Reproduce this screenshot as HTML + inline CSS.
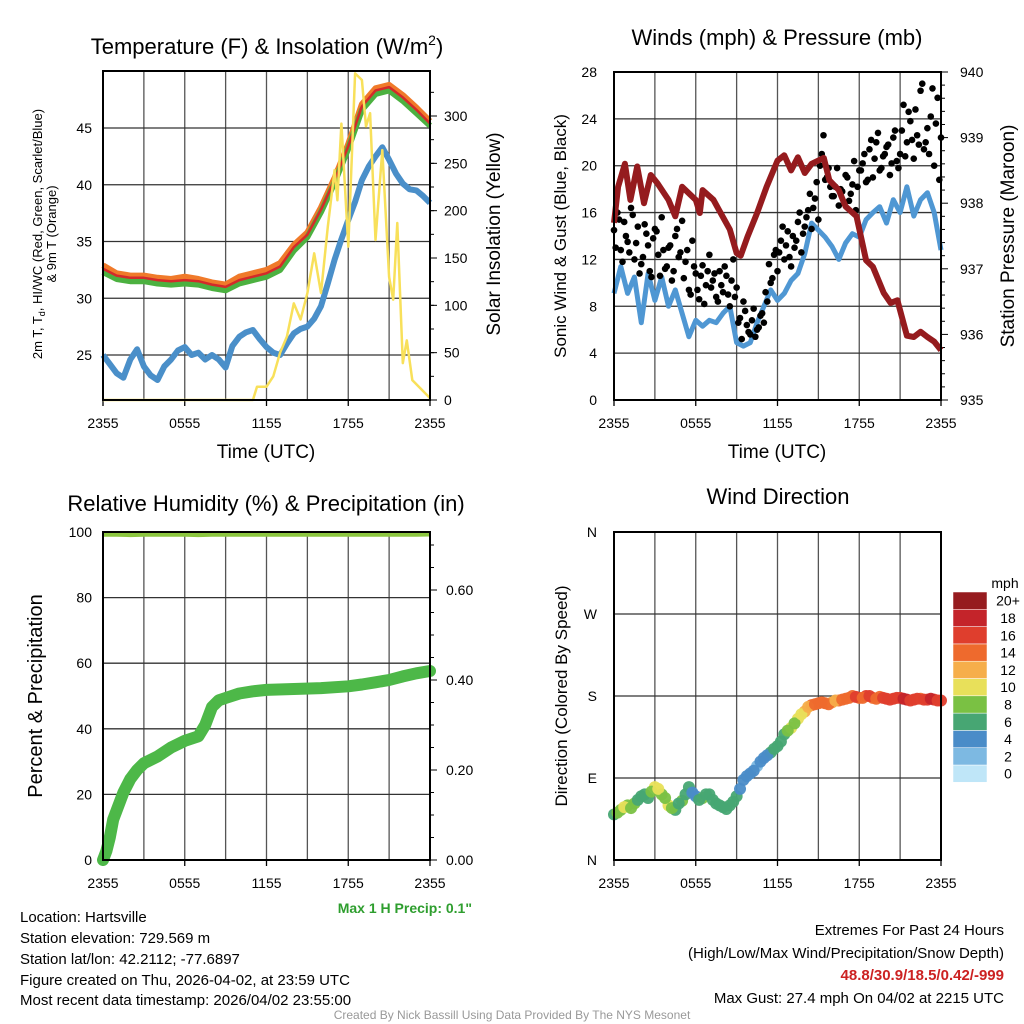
<!DOCTYPE html>
<html><head><meta charset="utf-8"><style>
html,body{margin:0;padding:0;background:#fff}
svg{display:block;font-family:"Liberation Sans",Arial,sans-serif}
</style></head><body>
<svg id="c" width="1024" height="1024" viewBox="0 0 1024 1024" xmlns="http://www.w3.org/2000/svg">
<rect x="0" y="0" width="1024" height="1024" fill="#fff"/>
<text x="267" y="54" font-size="22" text-anchor="middle">Temperature (F) &amp; Insolation (W/m<tspan font-size="14" dy="-9">2</tspan><tspan dy="9">)</tspan></text>
<text transform="translate(42,234) rotate(-90)" font-size="13" text-anchor="middle">2m T, T<tspan font-size="9" dy="3">d</tspan><tspan dy="-3">, HI/WC (Red, Green, Scarlet/Blue)</tspan></text>
<text transform="translate(56,234) rotate(-90)" font-size="13" text-anchor="middle">&amp; 9m T (Orange)</text>
<text transform="translate(500,234) rotate(-90)" font-size="19" text-anchor="middle">Solar Insolation (Yellow)</text>
<text x="266" y="458" font-size="19" text-anchor="middle">Time (UTC)</text>
<text x="777" y="45" font-size="22" text-anchor="middle">Winds (mph) &amp; Pressure (mb)</text>
<text transform="translate(566,236) rotate(-90)" font-size="17" text-anchor="middle">Sonic Wind &amp; Gust (Blue, Black)</text>
<text transform="translate(1014,236) rotate(-90)" font-size="19" text-anchor="middle">Station Pressure (Maroon)</text>
<text x="777" y="458" font-size="19" text-anchor="middle">Time (UTC)</text>
<text x="266" y="511" font-size="22" text-anchor="middle">Relative Humidity (%) &amp; Precipitation (in)</text>
<text transform="translate(42,696) rotate(-90)" font-size="20" text-anchor="middle">Percent &amp; Precipitation</text>
<text x="472" y="913" font-size="14" font-weight="bold" fill="#2e9e2e" text-anchor="end">Max 1 H Precip: 0.1"</text>
<text x="778" y="504" font-size="22" text-anchor="middle">Wind Direction</text>
<text transform="translate(567,696) rotate(-90)" font-size="17" text-anchor="middle">Direction (Colored By Speed)</text>
<text x="1005" y="588" font-size="14" text-anchor="middle">mph</text>
<g font-size="15">
<text x="20" y="922">Location: Hartsville</text>
<text x="20" y="943">Station elevation: 729.569 m</text>
<text x="20" y="964">Station lat/lon: 42.2112; -77.6897</text>
<text x="20" y="985">Figure created on Thu, 2026-04-02, at 23:59 UTC</text>
<text x="20" y="1005">Most recent data timestamp: 2026/04/02 23:55:00</text>
</g>
<g font-size="15" text-anchor="end">
<text x="1004" y="935">Extremes For Past 24 Hours</text>
<text x="1004" y="958">(High/Low/Max Wind/Precipitation/Snow Depth)</text>
<text x="1004" y="980" font-weight="bold" fill="#cc2222">48.8/30.9/18.5/0.42/-999</text>
<text x="1004" y="1003">Max Gust: 27.4 mph On 04/02 at 2215 UTC</text>
</g>
<text x="512" y="1019" font-size="12" fill="#999" text-anchor="middle">Created By Nick Bassill Using Data Provided By The NYS Mesonet</text>
</svg>
<script>
// ---- data ----
const xTickLabels = ["2355","0555","1155","1755","2355"];
const hours = [0,1,2,3,4,5,6,7,8,9,10,11,12,13,14,15,16,17,18,19,20,21,22,23,24];
const tempRed = [32.6,32.0,31.8,31.8,31.6,31.5,31.6,31.5,31.2,31.0,31.6,31.9,32.2,32.8,34.5,35.6,37.8,40.4,43.4,46.9,48.3,48.6,47.7,46.6,45.4];
const tempGreen = [32.3,31.7,31.5,31.5,31.3,31.2,31.3,31.2,30.9,30.7,31.3,31.6,31.9,32.5,34.2,35.4,37.6,40.2,43.2,46.6,48.0,48.3,47.4,46.3,45.2];
const tempOrange = [32.9,32.2,32.0,32.0,31.8,31.7,31.9,31.7,31.4,31.2,31.9,32.2,32.5,33.1,34.7,35.8,38.0,40.6,43.6,47.1,48.5,48.8,47.9,46.8,45.6];
const dewHours = [0,0.5,1,1.5,2,2.5,3,3.5,4,4.5,5,5.5,6,6.5,7,7.5,8,8.5,9,9.5,10,10.5,11,11.5,12,12.5,13,13.5,14,14.5,15,15.5,16,16.5,17,17.5,18,18.5,19,19.5,20,20.5,21,21.5,22,22.5,23,23.5,24];
const dewBlue = [25.0,24.2,23.4,23.0,24.6,25.5,24.0,23.2,22.8,24.0,24.6,25.4,25.7,25.0,25.2,24.6,25.0,24.6,23.9,25.8,26.6,27.0,27.2,26.4,25.7,25.2,25.0,26.0,26.9,27.3,27.5,28.2,29.3,31.3,33.4,35.2,36.9,38.5,40.4,41.6,42.5,43.3,42.2,41.0,40.1,39.6,39.5,39.0,38.4];
const solarHours = [0,11,11.3,12,12.5,13,13.5,14,14.5,15,15.5,16,16.5,17,17.2,17.5,18,18.5,19,19.3,19.6,20,20.5,21,21.3,21.6,22,22.3,22.7,24];
const solarValues = [0,0,14,14,25,50,67,102,85,113,155,113,183,243,211,292,162,345,338,289,303,169,264,130,106,187,39,63,21,2];
const presHours = [0,0.3,0.8,1.2,1.7,2.2,2.7,3.2,4,4.5,5,6,6.3,6.5,7.3,7.7,8.5,9,9.3,9.8,10.5,11.2,12,12.5,13,13.5,14,14.5,15.4,15.8,16.5,17,17.8,18.5,19,19.8,20.3,20.8,21.5,22,22.5,23,23.5,24];
const presValues = [937.70,938.25,938.6,938.05,938.56,938.0,938.43,938.3,938.05,937.8,938.25,938.05,937.85,938.2,938.05,937.9,937.6,937.24,937.2,937.49,937.85,938.25,938.65,938.73,938.5,938.7,938.46,938.6,938.69,938.35,938.2,937.95,937.8,937.13,937.03,936.63,936.48,936.52,935.98,935.96,936.04,935.96,935.89,935.76];
const windBlue = [9.1,11.4,9.1,10.5,6.6,10.8,8.5,10.5,8.0,9.4,7.4,5.4,6.8,6.3,6.8,6.6,7.4,8.0,4.9,4.6,4.9,6.6,8.0,9.4,8.5,9.1,10.2,10.8,12.5,15.1,14.5,13.9,13.1,12.0,13.4,14.2,13.9,15.4,16.0,16.5,15.1,17.1,16.0,18.2,15.7,17.1,17.7,16.0,12.8];
const gustValues = [14.5,16.0,12.8,15.2,13.5,16.4,12.0,14.8,11.6,15.0,13.2,10.5,14.6,12.4,15.6,11.2,13.0,10.2,14.0,12.2,15.3,11.8,9.4,13.6,10.8,8.6,11.5,9.8,12.4,10.2,8.8,11.0,9.2,10.6,8.0,12.0,9.6,7.0,8.4,6.4,5.6,7.8,6.0,7.2,6.6,8.4,10.0,12.4,11.0,13.6,12.0,14.4,11.4,13.0,15.2,12.6,14.8,16.2,14.6,17.2,15.4,21.0,18.8,19.8,17.4,18.2,16.6,17.8,19.2,17.0,18.4,16.2,19.6,20.2,18.6,21.4,19.0,22.0,19.6,20.8,21.6,19.2,22.4,20.4,21.0,25.2,22.0,23.8,20.6,22.6,26.4,21.4,23.2,24.2,20.0,25.8,22.4];
const gustValues2 = [13.0,15.4,11.8,14.0,12.6,15.8,13.4,10.8,12.2,14.2,11.0,13.8,14.4,10.6,12.8,11.4,13.2,11.0,14.6,12.6,10.4,12.8,9.0,11.4,9.4,10.6,8.2,11.0,9.6,10.8,8.4,9.8,11.4,9.0,10.2,8.8,6.6,5.2,7.6,5.8,6.8,5.4,6.2,7.4,9.2,11.6,10.4,12.8,12.6,14.8,13.2,12.2,14.0,13.6,16.0,14.2,15.6,17.6,16.4,18.6,20.0,22.6,19.0,18.2,17.4,19.8,18.0,16.8,19.0,17.6,20.4,18.2,19.6,21.0,18.8,22.2,20.6,22.8,19.8,21.0,21.8,20.2,23.0,19.8,23.0,20.8,24.6,22.2,24.8,21.8,27.0,22.0,21.0,26.6,23.6,18.8];
const rhValues = [99.3,99.3,99.2,99.3,99.3,99.3,99.3,99.2,99.3,99.3,99.3,99.3,99.3,99.3,99.3,99.3,99.3,99.3,99.3,99.3,99.3,99.3,99.3,99.3,99.4];
const precipHours = [0,0.25,0.5,0.75,1,1.25,1.5,2,2.5,3,4,5,6,7,7.5,8,8.5,9,10,11,12,14,16,18,19,20,21,22,23,24];
const precipValues = [0,0.02,0.05,0.09,0.11,0.13,0.15,0.18,0.20,0.215,0.23,0.25,0.265,0.275,0.30,0.34,0.355,0.36,0.37,0.375,0.378,0.38,0.382,0.386,0.39,0.395,0.40,0.408,0.415,0.42];
const dirValues = [50,55,60,62,70,68,80,72,60,55,65,80,70,68,72,62,58,60,70,88,95,103,112,118,125,138,145,155,163,170,172,172,173,175,177,180,178,180,178,179,177,177,178,176,176,177,176,176,175];
const dirSpeeds = [6,9,8,9,7,6,10,9,10,7,8,6,4,8,6,6,6,7,7,4,4,3,5,6,7,7,10,10,12,15,14,14,13,14,15,14,15,16,14,15,16,17,16,18,17,15,17,16,17];
const dirValues2 = [52,58,57,66,72,75,78,68,57,62,72,74,66,72,66,60,56,64,78,92,98,108,115,122,130,142,150,160,168,171,173,171,175,176,178,179,178,180,177,178,176,178,177,175,177,176,177,175];
const dirSpeeds2 = [8,10,8,7,6,8,10,9,8,6,6,4,7,6,6,6,7,6,5,4,4,4,5,6,7,8,9,11,13,14,15,14,13,15,14,16,15,16,15,16,16,17,18,17,16,17,18,16];
const tempTicks = [25,30,35,40,45];
const solarTicks = [0,50,100,150,200,250,300];
const windTicks = [0,4,8,12,16,20,24,28];
const presTicks = [935,936,937,938,939,940];
const rhTicks = [0,20,40,60,80,100];
const precipTicks = [0,0.2,0.4,0.6];
const dirTicks = [0,90,180,270,360];
const dirTickLabels = ["N","E","S","W","N"];
const cbLabels = ["0","2","4","6","8","10","12","14","16","18","20+"];
const cbColors = ["#bfe6f8","#7db9e2","#4a8cc8","#47a673","#7ac143","#e8e05a","#f6ae4a","#ee6a2d","#df3e2d","#c4242a","#961b1f"];

const NS = "http://www.w3.org/2000/svg";
const svg = document.getElementById("c");
function el(tag, attrs, parent){const e=document.createElementNS(NS,tag);for(const k in attrs)e.setAttribute(k,attrs[k]);(parent||svg).appendChild(e);return e;}
function lin(d0,d1,r0,r1){return v=>r0+(v-d0)/(d1-d0)*(r1-r0);}
function pathD(xs,ys,fx,fy){return xs.map((x,i)=>(i?"L":"M")+fx(x).toFixed(1)+","+fy(ys[i]).toFixed(1)).join("");}

function frame(p, name){
  const g = el("g",{});
  
  
  for(let h=3; h<24; h+=3){
    const l=el("line",{x1:p.fx(h),x2:p.fx(h),y1:p.y0,y2:p.y1,stroke:"#555","stroke-width":1.3},g);
    
    
  }
  for(let i=0;i<5;i++){
    const x=p.fx(i*6);
    const t=el("line",{x1:x,x2:x,y1:p.y1,y2:p.y1+6,stroke:"#000","stroke-width":1.3},g);
    
    
    const tx=el("text",{x:x,y:p.y1+28,"font-size":14,"text-anchor":"middle"},g);
    tx.textContent=xTickLabels[i];
    
    
  }
  return g;
}
function hgrid(p, ticks, fy, g){
  ticks.forEach(v=>{const l=el("line",{x1:p.x0,x2:p.x1,y1:fy(v),y2:fy(v),stroke:"#333","stroke-width":1.3},g);
    
    });
}
function yLabels(ticks, labels, fy, x, anchor, g, name){
  ticks.forEach((v,i)=>{const t=el("text",{x:x,y:fy(v)+5,"font-size":14,"text-anchor":anchor},g);t.textContent=labels[i];
    
    });
}
function border(p,g){const r=el("rect",{x:p.x0,y:p.y0,width:p.x1-p.x0,height:p.y1-p.y0,fill:"none",stroke:"#000","stroke-width":2},g);
  
  }
function ticksOut(vals,fy,x,len,g){vals.forEach(v=>{const l=el("line",{x1:x,x2:x+len,y1:fy(v),y2:fy(v),stroke:"#000","stroke-width":1},g);
  
  });}

// ---- Panel 1: temperature ----
const p1={x0:103,x1:430,y0:71,y1:400}; p1.fx=lin(0,24,p1.x0,p1.x1);
const fyT=lin(25,45,355,128), fyS=lin(0,300,400,116);
const g1=frame(p1,'temperature-panel');
hgrid(p1,tempTicks,fyT,g1);
yLabels(tempTicks,tempTicks.map(String),fyT,92,"end",g1,'temp-tick-label');
yLabels(solarTicks,solarTicks.map(String),fyS,444,"start",g1,'solar-tick-label');
ticksOut([0,25,50,75,100,125,150,175,200,225,250,275,300,325],fyS,430,4,g1);
ticksOut(solarTicks,fyS,430,7,g1);
{const s=el("path",{d:pathD(hours,tempOrange,p1.fx,fyT),fill:"none",stroke:"#f07a2a","stroke-width":6,"stroke-linejoin":"round"},g1);

}
{const s=el("path",{d:pathD(hours,tempGreen,p1.fx,fyT),fill:"none",stroke:"#4cb140","stroke-width":6,"stroke-linejoin":"round"},g1);

}
{const s=el("path",{d:pathD(hours,tempRed,p1.fx,fyT),fill:"none",stroke:"#d42a2a","stroke-width":2.5,"stroke-linejoin":"round"},g1);

}
{const s=el("path",{d:pathD(dewHours,dewBlue,p1.fx,fyT),fill:"none",stroke:"#4a8fc9","stroke-width":6,"stroke-linejoin":"round"},g1);

}
{const s=el("path",{d:pathD(solarHours,solarValues,p1.fx,fyS),fill:"none",stroke:"#f8e05a","stroke-width":2.5,"stroke-linejoin":"round"},g1);

}
border(p1,g1);

// ---- Panel 2: winds & pressure ----
const p2={x0:614,x1:941,y0:72,y1:400}; p2.fx=lin(0,24,p2.x0,p2.x1);
const fyW=lin(0,28,400,72), fyP=lin(935,940,400,72);
const g2=frame(p2,'wind-panel');
hgrid(p2,windTicks,fyW,g2);
yLabels(windTicks,windTicks.map(String),fyW,597,"end",g2,'wind-tick-label');
yLabels(presTicks,presTicks.map(String),fyP,960,"start",g2,'pressure-tick-label');
ticksOut([935.2,935.4,935.6,935.8,936.2,936.4,936.6,936.8,937.2,937.4,937.6,937.8,938.2,938.4,938.6,938.8,939.2,939.4,939.6,939.8],fyP,941,4,g2);
ticksOut(presTicks,fyP,941,7,g2);
{const s=el("path",{d:pathD(dewHours,windBlue,p2.fx,fyW),fill:"none",stroke:"#4f97d3","stroke-width":5,"stroke-linejoin":"round"},g2);

}
gustValues.forEach((v,i)=>{const d=el("circle",{cx:p2.fx(i*0.25),cy:fyW(v),r:3.3,fill:"#000"},g2);

});
gustValues2.forEach((v,i)=>{const d=el("circle",{cx:p2.fx(0.125+i*0.25),cy:fyW(v),r:3.3,fill:"#000"},g2);

});
{const s=el("path",{d:pathD(presHours,presValues,p2.fx,fyP),fill:"none",stroke:"#951b1e","stroke-width":6,"stroke-linejoin":"round"},g2);

}
border(p2,g2);

// ---- Panel 3: RH & precip ----
const p3={x0:103,x1:430,y0:532,y1:860}; p3.fx=lin(0,24,p3.x0,p3.x1);
const fyR=lin(0,100,860,532), fyQ=lin(0,0.2,860,770);
const g3=frame(p3,'humidity-panel');
hgrid(p3,rhTicks,fyR,g3);
yLabels(rhTicks,rhTicks.map(String),fyR,92,"end",g3,'rh-tick-label');
yLabels(precipTicks,precipTicks.map(v=>v.toFixed(2)),fyQ,446,"start",g3,'precip-tick-label');
ticksOut([0.05,0.1,0.15,0.25,0.3,0.35,0.45,0.5,0.55,0.65,0.7],fyQ,430,4,g3);
ticksOut(precipTicks,fyQ,430,7,g3);
{const s=el("path",{d:pathD(hours,rhValues,p3.fx,fyR),fill:"none",stroke:"#8cc63f","stroke-width":5},g3);

}
{const s=el("path",{d:pathD(precipHours,precipValues,p3.fx,fyQ),fill:"none",stroke:"#4db848","stroke-width":12,"stroke-linecap":"round","stroke-linejoin":"round"},g3);

}
border(p3,g3);

// ---- Panel 4: wind direction ----
const p4={x0:614,x1:941,y0:532,y1:860}; p4.fx=lin(0,24,p4.x0,p4.x1);
const fyD=lin(0,360,860,532);
const g4=frame(p4,'wind-direction-panel');
hgrid(p4,dirTicks,fyD,g4);
yLabels(dirTicks,dirTickLabels,fyD,597,"end",g4,'direction-tick-label');
dirValues.forEach((v,i)=>{
  const bin=Math.min(10,Math.floor(dirSpeeds[i]/2));
  const d=el("circle",{cx:p4.fx(i*0.5),cy:fyD(v),r:6,fill:cbColors[bin],opacity:0.95},g4);
  
  
});
dirValues2.forEach((v,i)=>{
  const bin=Math.min(10,Math.floor(dirSpeeds2[i]/2));
  const d=el("circle",{cx:p4.fx(0.25+i*0.5),cy:fyD(v),r:6,fill:cbColors[bin],opacity:0.95},g4);
  
  
});
border(p4,g4);
// colorbar
const cbg=el("g",{});


const cbTop=592, cbH=17.3;
cbColors.forEach((c,i)=>{
  const y=cbTop+(10-i)*cbH;
  const r=el("rect",{x:953,y:y,width:34,height:cbH,fill:c,stroke:"#fff","stroke-width":0.5},cbg);
  
  
  const t=el("text",{x:1008,y:y+cbH/2+5,"font-size":14,"text-anchor":"middle"},cbg);
  t.textContent=cbLabels[i];
  
  
});
</script>
</body></html>
